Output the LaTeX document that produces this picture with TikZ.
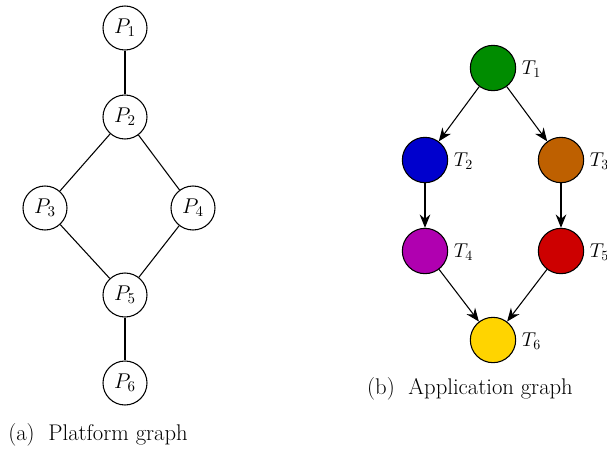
\documentclass[tikz,border=0pt]{standalone}
\usepackage{fix-cm}
\usetikzlibrary{arrows.meta}
\definecolor{cT1}{RGB}{0,140,0}
\definecolor{cT2}{RGB}{0,0,205}
\definecolor{cT3}{RGB}{190,96,0}
\definecolor{cT4}{RGB}{176,0,176}
\definecolor{cT5}{RGB}{205,0,0}
\definecolor{cT6}{RGB}{255,212,0}
\begin{document}
\begin{tikzpicture}[x=0.75pt,y=-0.75pt,
  pnode/.style={circle,draw,thick,minimum size=33pt,inner sep=0pt,font=\fontsize{16}{18}\selectfont},
  tnode/.style={circle,draw,thick,minimum size=34pt,inner sep=0pt},
  tlabel/.style={anchor=west,inner sep=0pt,font=\fontsize{15}{17}\selectfont},
  pedge/.style={thick},
  tedge/.style={thick,-{Stealth[length=10pt,width=8pt]}},
  captext/.style={font=\fontsize{17}{20}\selectfont}]
\useasboundingbox (0,0) rectangle (607,455);
% platform graph
\node[pnode] (P1) at (125,28) {$P_1$};
\node[pnode] (P2) at (125,117) {$P_2$};
\node[pnode] (P3) at (45,208) {$P_3$};
\node[pnode] (P4) at (193,208) {$P_4$};
\node[pnode] (P5) at (125,295) {$P_5$};
\node[pnode] (P6) at (125,383) {$P_6$};
\draw[pedge] (P1) -- (P2);
\draw[pedge] (P2) -- (P3);
\draw[pedge] (P2) -- (P4);
\draw[pedge] (P3) -- (P5);
\draw[pedge] (P4) -- (P5);
\draw[pedge] (P5) -- (P6);
\node[captext,anchor=west,inner sep=0pt] (capa) at (8,435) {(a)\ \ Platform graph};
% application graph
\node[tnode,fill=cT1] (T1) at (493,68) {};
\node[tnode,fill=cT2] (T2) at (425,160) {};
\node[tnode,fill=cT3] (T3) at (561,160) {};
\node[tnode,fill=cT4] (T4) at (425,251) {};
\node[tnode,fill=cT5] (T5) at (561,251) {};
\node[tnode,fill=cT6] (T6) at (493,340) {};
\node[tlabel] (L1) at ([xshift=4pt,yshift=-1pt]T1.east) {$T_1$};
\node[tlabel] (L2) at ([xshift=4pt,yshift=-1pt]T2.east) {$T_2$};
\node[tlabel] (L3) at ([xshift=4pt,yshift=-1pt]T3.east) {$T_3$};
\node[tlabel] (L4) at ([xshift=4pt,yshift=-1pt]T4.east) {$T_4$};
\node[tlabel] (L5) at ([xshift=4pt,yshift=-1pt]T5.east) {$T_5$};
\node[tlabel] (L6) at ([xshift=4pt,yshift=-1pt]T6.east) {$T_6$};
\draw[tedge] (T1) -- (T2);
\draw[tedge] (T1) -- (T3);
\draw[tedge] (T2) -- (T4);
\draw[tedge] (T3) -- (T5);
\draw[tedge] (T4) -- (T6);
\draw[tedge] (T5) -- (T6);
\node[captext] (capb) at (470,389) {(b)\ \ Application graph};
\end{tikzpicture}
\end{document}
